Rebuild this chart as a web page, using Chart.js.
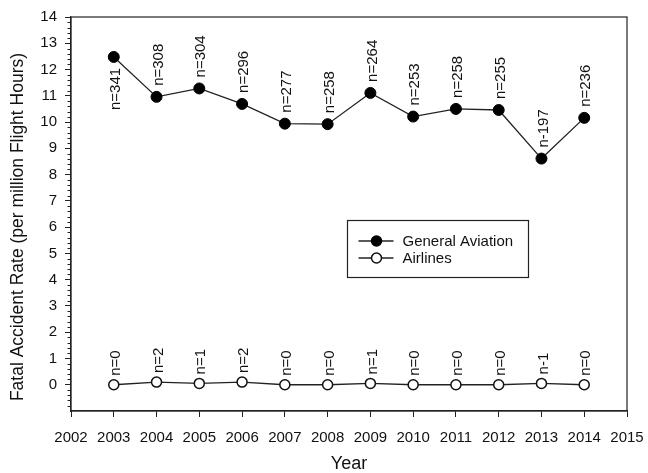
<!DOCTYPE html>
<html>
<head>
<meta charset="utf-8">
<script src="https://cdn.jsdelivr.net/npm/chart.js@4"></script>
<style>
  html, body { margin: 0; padding: 0; background: #fff; }
  #chart { display: block; }
</style>
</head>
<body>
<canvas id="chart" width="648" height="473"></canvas>
<script>
// Data
const years = [2003, 2004, 2005, 2006, 2007, 2008, 2009, 2010, 2011, 2012, 2013, 2014]
const generalAviation = [12.48, 10.96, 11.28, 10.69, 9.94, 9.92, 11.11, 10.21, 10.5, 10.46, 8.61, 10.16]
const airlines = [0, 0.1, 0.05, 0.1, 0, 0, 0.05, 0, 0, 0, 0.05, 0]
const gaCounts = ['n=341', 'n=308', 'n=304', 'n=296', 'n=277', 'n=258', 'n=264', 'n=253', 'n=258', 'n=255', 'n-197', 'n=236']
const airlineCounts = ['n=0', 'n=2', 'n=1', 'n=2', 'n=0', 'n=0', 'n=1', 'n=0', 'n=0', 'n=0', 'n-1', 'n=0']

const FONT = 'Arial, "Liberation Sans", sans-serif'
const INK = '#222'

/**
 * Vertical "n=" labels next to each point
 */
const countLabels = {
  id: 'countLabels',
  afterDatasetsDraw(chart) {
    const ctx = chart.ctx
    const sets = [
      { meta: chart.getDatasetMeta(0), labels: gaCounts, gap: 11 },
      { meta: chart.getDatasetMeta(1), labels: airlineCounts, gap: 9 },
    ]
    ctx.save()
    ctx.font = '15px ' + FONT
    ctx.fillStyle = '#111'
    ctx.textBaseline = 'middle'
    sets.forEach((set) => {
      set.meta.data.forEach((pt, i) => {
        const below = set.meta.index === 0 && i === 0
        ctx.save()
        ctx.translate(pt.x + 2, below ? pt.y + set.gap : pt.y - set.gap)
        ctx.rotate(-Math.PI / 2)
        ctx.textAlign = below ? 'right' : 'left'
        ctx.fillText(set.labels[i], 0, 0)
        ctx.restore()
      })
    })
    ctx.restore()
  },
}

/**
 * Frame, minor ticks, y title and legend box
 */
const decorations = {
  id: 'decorations',
  afterDraw(chart) {
    const ctx = chart.ctx
    const area = chart.chartArea
    const y = chart.scales.y

    ctx.save()
    ctx.strokeStyle = INK
    ctx.lineWidth = 1.2
    ctx.strokeRect(area.left, area.top, area.right - area.left, area.bottom - area.top)

    // minor ticks every 0.2
    ctx.lineWidth = 1
    ctx.beginPath()
    for (let k = -5; k <= 70; k++) {
      if (k % 5 === 0) continue
      const py = Math.round(y.getPixelForValue(k / 5)) + 0.5
      ctx.moveTo(area.left - 3.5, py)
      ctx.lineTo(area.left, py)
    }
    ctx.stroke()

    // y axis title
    ctx.save()
    ctx.translate(18, 227)
    ctx.rotate(-Math.PI / 2)
    ctx.font = '17.5px ' + FONT
    ctx.fillStyle = '#111'
    ctx.textAlign = 'center'
    ctx.textBaseline = 'middle'
    ctx.fillText('Fatal Accident Rate (per million Flight Hours)', 0, 0)
    ctx.restore()

    // legend
    const box = { x: 347.5, y: 220.5, w: 181, h: 57 }
    ctx.lineWidth = 1.2
    ctx.strokeStyle = INK
    ctx.strokeRect(box.x, box.y, box.w, box.h)
    ctx.font = '15px ' + FONT
    ctx.textAlign = 'left'
    ctx.textBaseline = 'middle'
    chart.data.datasets.forEach((ds, i) => {
      const ly = box.y + 20.5 + i * 17
      ctx.strokeStyle = ds.borderColor
      ctx.lineWidth = 1.3
      ctx.beginPath()
      ctx.moveTo(box.x + 11, ly)
      ctx.lineTo(box.x + 46, ly)
      ctx.stroke()
      ctx.beginPath()
      ctx.arc(box.x + 29, ly, 5, 0, Math.PI * 2)
      ctx.fillStyle = ds.pointBackgroundColor
      ctx.fill()
      ctx.lineWidth = 1.5
      ctx.strokeStyle = ds.pointBorderColor
      ctx.stroke()
      ctx.fillStyle = '#111'
      ctx.fillText(ds.label, box.x + 55, ly + 1)
    })
    ctx.restore()
  },
}

new Chart(document.getElementById('chart'), {
  type: 'line',
  data: {
    datasets: [
      {
        label: 'General Aviation',
        data: years.map((yr, i) => ({ x: yr, y: generalAviation[i] })),
        borderColor: INK,
        borderWidth: 1.3,
        pointRadius: 5.5,
        pointBackgroundColor: '#000',
        pointBorderColor: '#000',
        pointBorderWidth: 1,
        tension: 0,
      },
      {
        label: 'Airlines',
        data: years.map((yr, i) => ({ x: yr, y: airlines[i] })),
        borderColor: INK,
        borderWidth: 1.3,
        pointRadius: 5,
        pointBackgroundColor: '#fff',
        pointBorderColor: '#111',
        pointBorderWidth: 1.5,
        tension: 0,
      },
    ],
  },
  options: {
    responsive: false,
    devicePixelRatio: 1,
    animation: false,
    layout: {
      padding: { top: 17, right: 21, left: 0, bottom: 0 },
    },
    plugins: {
      legend: { display: false },
      tooltip: { enabled: false },
    },
    scales: {
      x: {
        type: 'linear',
        min: 2002,
        max: 2015,
        border: { color: INK, width: 1.2 },
        grid: {
          drawOnChartArea: false,
          drawTicks: true,
          tickLength: 6,
          tickColor: INK,
        },
        ticks: {
          stepSize: 1,
          color: '#111',
          padding: 12,
          font: { family: FONT, size: 15 },
          maxRotation: 0,
          callback: (v) => String(v),
        },
        title: {
          display: true,
          text: 'Year',
          color: '#111',
          font: { family: FONT, size: 18, lineHeight: 1 },
          padding: { top: 0, bottom: 0 },
        },
        afterFit: (scale) => {
          scale.height = 62
          scale.paddingLeft = 0
          scale.paddingRight = 0
        },
      },
      y: {
        type: 'linear',
        min: -1,
        max: 14,
        border: { color: INK, width: 1.2 },
        grid: {
          drawOnChartArea: false,
          drawTicks: true,
          tickLength: 6,
          tickColor: (c) => (c.tick && c.tick.value < 0 ? 'rgba(0,0,0,0)' : INK),
        },
        ticks: {
          stepSize: 1,
          color: '#111',
          padding: 8,
          font: { family: FONT, size: 15 },
          callback: (v) => (v < 0 ? '' : String(v)),
        },
        afterFit: (scale) => {
          scale.width = 71
          scale.paddingTop = 0
          scale.paddingBottom = 0
        },
      },
    },
  },
  plugins: [countLabels, decorations],
})
</script>
</body>
</html>
